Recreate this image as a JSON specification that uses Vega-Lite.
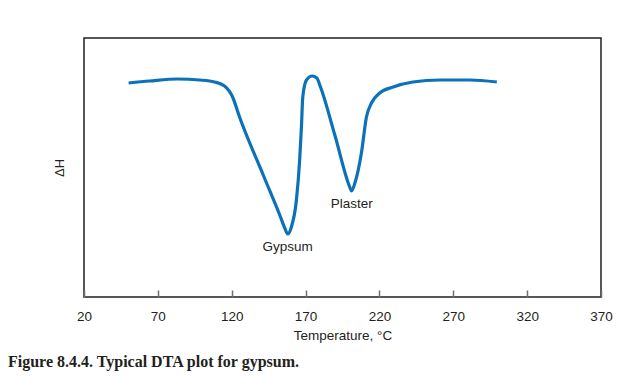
{
  "$schema": "https://vega.github.io/schema/vega-lite/v6.json",
  "width": 517,
  "height": 259,
  "autosize": "none",
  "padding": {"left": 84, "top": 38, "right": 42, "bottom": 88},
  "background": "white",
  "config": {
    "view": {"stroke": "#231f20", "strokeWidth": 1.5},
    "font": "Liberation Sans"
  },
  "title": {
    "text": "Figure 8.4.4. Typical DTA plot for gypsum.",
    "orient": "bottom",
    "anchor": "start",
    "frame": "group",
    "font": "Liberation Serif",
    "fontSize": 16,
    "fontWeight": "bold",
    "color": "#231f20",
    "dx": -76,
    "offset": 12
  },
  "datasets": {
    "curve": [
      {"T": 50.2, "dH": 214},
      {"T": 64.4, "dH": 216},
      {"T": 83.4, "dH": 218},
      {"T": 98.3, "dH": 217},
      {"T": 108.4, "dH": 215},
      {"T": 115.1, "dH": 211},
      {"T": 120.6, "dH": 200},
      {"T": 125.3, "dH": 180},
      {"T": 141.6, "dH": 121},
      {"T": 152.5, "dH": 82},
      {"T": 155.9, "dH": 69},
      {"T": 157.9, "dH": 63},
      {"T": 160.4, "dH": 70},
      {"T": 163.8, "dH": 97},
      {"T": 166.0, "dH": 137},
      {"T": 167.2, "dH": 170},
      {"T": 168.1, "dH": 200},
      {"T": 170.6, "dH": 217},
      {"T": 174.4, "dH": 221},
      {"T": 177.6, "dH": 219},
      {"T": 180.1, "dH": 210},
      {"T": 189.8, "dH": 162},
      {"T": 199.9, "dH": 110},
      {"T": 201.1, "dH": 106},
      {"T": 203.4, "dH": 114},
      {"T": 207.8, "dH": 144},
      {"T": 211.2, "dH": 180},
      {"T": 214.6, "dH": 194},
      {"T": 220.2, "dH": 204},
      {"T": 229.3, "dH": 210},
      {"T": 242.6, "dH": 215},
      {"T": 260.9, "dH": 217},
      {"T": 281.2, "dH": 217},
      {"T": 299.5, "dH": 215}
    ],
    "labels": [
      {"T": 157.9, "dH": 50, "label": "Gypsum"},
      {"T": 201.3, "dH": 93, "label": "Plaster"}
    ]
  },
  "layer": [
    {
      "data": {"name": "curve"},
      "mark": {"type": "line", "interpolate": "monotone", "color": "#0b72b9", "strokeWidth": 3.2},
      "encoding": {
        "x": {
          "field": "T", "type": "quantitative",
          "scale": {"domain": [20, 370], "nice": false, "zero": false},
          "axis": {
            "title": "Temperature, °C",
            "values": [20, 70, 120, 170, 220, 270, 320, 370],
            "grid": false,
            "domain": false,
            "tickSize": -7,
            "tickColor": "#6d6e71",
            "tickWidth": 1.5,
            "labelPadding": 19,
            "labelFontSize": 13.5,
            "labelColor": "#231f20",
            "labelFlush": false,
            "titleFontSize": 13.5,
            "titleFontWeight": "normal",
            "titleColor": "#231f20",
            "titlePadding": 6
          }
        },
        "y": {
          "field": "dH", "type": "quantitative",
          "scale": {"domain": [0, 259], "nice": false},
          "axis": {
            "title": "ΔH",
            "labels": false,
            "ticks": false,
            "domain": false,
            "grid": false,
            "titleFontSize": 13,
            "titleFontWeight": "normal",
            "titleColor": "#231f20",
            "titlePadding": 18
          }
        }
      }
    },
    {
      "data": {"name": "labels"},
      "mark": {"type": "text", "fontSize": 13.5, "color": "#231f20", "font": "Liberation Sans"},
      "encoding": {
        "x": {"field": "T", "type": "quantitative"},
        "y": {"field": "dH", "type": "quantitative"},
        "text": {"field": "label"}
      }
    }
  ]
}
